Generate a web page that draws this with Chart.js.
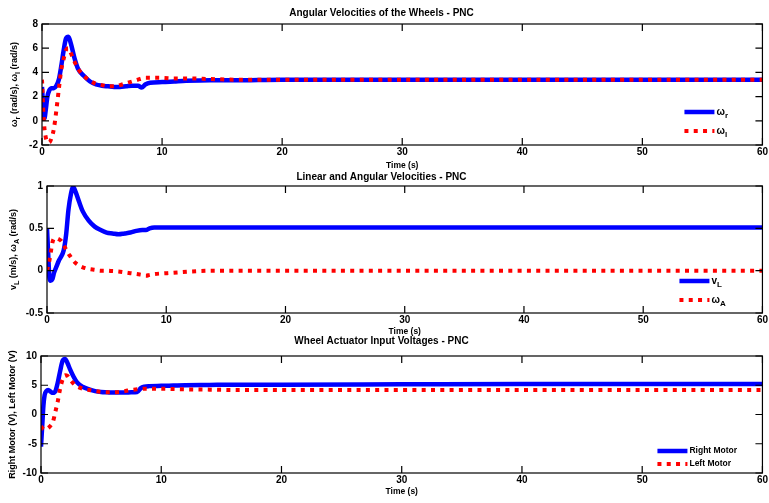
<!DOCTYPE html>
<html>
<head>
<meta charset="utf-8">
<script src="https://cdn.jsdelivr.net/npm/chart.js@4.4.0/dist/chart.umd.min.js"></script>
<style>
html, body { margin: 0; padding: 0; background: #fff; }
.pane { position: absolute; left: 0; width: 769px; }
</style>
</head>
<body>
<div class="pane" style="top:0;height:172px"><canvas id="c1"></canvas></div>
<div class="pane" style="top:170px;height:167px"><canvas id="c2"></canvas></div>
<div class="pane" style="top:333px;height:170px"><canvas id="c3"></canvas></div>
<script>
// time base shared by every series (s)
const time = [0, 0.1, 0.2, 0.3, 0.45, 0.6, 0.8, 1.0, 1.2, 1.4, 1.6, 1.8, 2.0, 2.2, 2.4, 2.7, 3.0, 3.5, 4, 4.5, 5, 5.5, 6, 6.5, 7, 7.5, 8, 8.3, 8.6, 9, 10, 11, 12, 14, 16, 20, 30, 40, 50, 60];

// plot 1 : wheel angular velocities (rad/s)
const omegaR = [2.8, 1.2, 0.2, 0.8, 2.0, 2.5, 2.7, 2.7, 2.9, 3.4, 4.5, 5.8, 6.8, 6.95, 6.4, 5.2, 4.3, 3.7, 3.25, 3.0, 2.9, 2.85, 2.8, 2.8, 2.85, 2.9, 2.9, 2.75, 3.0, 3.15, 3.2, 3.25, 3.3, 3.35, 3.35, 3.4, 3.4, 3.4, 3.4, 3.4];
const omegaL = [3.4, 1.0, -0.6, -1.3, -1.75, -1.8, -1.4, -0.6, 0.9, 2.6, 4.2, 5.1, 5.85, 6.0, 5.6, 4.9, 4.3, 3.7, 3.3, 3.05, 2.95, 2.85, 2.85, 2.95, 3.1, 3.25, 3.4, 3.5, 3.55, 3.55, 3.55, 3.5, 3.5, 3.45, 3.4, 3.4, 3.4, 3.4, 3.4, 3.4];

// plot 2 : linear (m/s) and angular (rad/s) velocities
const vL = [0.5, 0.2, -0.08, -0.12, -0.1, -0.02, 0.05, 0.12, 0.17, 0.24, 0.42, 0.72, 0.9, 0.99, 0.93, 0.81, 0.7, 0.59, 0.52, 0.48, 0.45, 0.44, 0.43, 0.44, 0.45, 0.47, 0.48, 0.48, 0.5, 0.51, 0.51, 0.51, 0.51, 0.51, 0.51, 0.51, 0.51, 0.51, 0.51, 0.51];
const omegaA = [0.0, 0.06, 0.12, 0.2, 0.33, 0.38, 0.38, 0.37, 0.35, 0.3, 0.25, 0.2, 0.16, 0.12, 0.09, 0.06, 0.04, 0.02, 0.01, 0.0, 0.0, -0.005, -0.01, -0.02, -0.03, -0.04, -0.05, -0.06, -0.05, -0.04, -0.03, -0.02, -0.01, 0.0, 0.0, 0.0, 0.0, 0.0, 0.0, 0.0];

// plot 3 : actuator voltages (V)
const rightMotor = [-5.5, -2.0, 1.5, 3.3, 4.0, 4.2, 3.9, 3.7, 4.0, 5.5, 7.5, 9.2, 9.5, 8.8, 7.8, 6.5, 5.5, 4.7, 4.3, 4.0, 3.85, 3.8, 3.75, 3.75, 3.75, 3.8, 3.85, 4.5, 4.75, 4.85, 4.9, 4.95, 5.0, 5.05, 5.1, 5.1, 5.15, 5.2, 5.2, 5.2];
const leftMotor = [-2.0, -2.3, -2.5, -2.6, -2.5, -2.3, -1.9, -1.2, 0.5, 2.3, 4.5, 6.0, 6.7, 6.6, 6.0, 5.3, 4.8, 4.4, 4.2, 4.0, 3.85, 3.8, 3.8, 3.85, 4.0, 4.2, 4.3, 4.35, 4.4, 4.4, 4.4, 4.35, 4.3, 4.25, 4.2, 4.2, 4.2, 4.2, 4.2, 4.2];

const FONT = "'Liberation Sans', Arial, Helvetica, sans-serif";
Chart.defaults.font.family = FONT;
Chart.defaults.color = '#000';

function pts(ys) {
    return time.map((t, i) => ({ x: t, y: ys[i] }));
}

// draws "a_b" with b as a subscript, along the current x direction
function drawSubText(ctx, str, size, x, y) {
    const parts = str.split(/_(.)/);
    let w = 0;
    parts.forEach((p, i) => {
        ctx.font = 'bold ' + (i % 2 ? size * 0.8 : size) + 'px ' + FONT;
        w += ctx.measureText(p).width;
    });
    return {
        width: w,
        draw(align) {
            let cx = align === 'center' ? x - w / 2 : x;
            parts.forEach((p, i) => {
                const sub = i % 2 === 1;
                ctx.font = 'bold ' + (sub ? size * 0.8 : size) + 'px ' + FONT;
                ctx.fillText(p, cx, y + (sub ? size * 0.35 : 0));
                cx += ctx.measureText(p).width;
            });
        }
    };
}

// matlab style box, inward ticks, y title with subscripts and an inside legend
const matlabAxes = {
    id: 'matlabAxes',
    afterDraw(chart, args, opts) {
        const { ctx, chartArea: a } = chart;
        const xs = chart.scales.x, ys = chart.scales.y;
        const tl = 7;
        ctx.save();
        ctx.strokeStyle = '#000';
        ctx.lineWidth = 1.2;
        ctx.strokeRect(a.left, a.top, a.right - a.left, a.bottom - a.top);
        ctx.beginPath();
        xs.ticks.forEach(t => {
            const px = xs.getPixelForValue(t.value);
            ctx.moveTo(px, a.bottom); ctx.lineTo(px, a.bottom - tl);
            ctx.moveTo(px, a.top); ctx.lineTo(px, a.top + tl);
        });
        ys.ticks.forEach(t => {
            const py = ys.getPixelForValue(t.value);
            ctx.moveTo(a.left, py); ctx.lineTo(a.left + tl, py);
            ctx.moveTo(a.right, py); ctx.lineTo(a.right - tl, py);
        });
        ctx.stroke();

        // y axis title
        ctx.fillStyle = '#000';
        ctx.textBaseline = 'middle';
        ctx.textAlign = 'left';
        ctx.save();
        ctx.translate(opts.titleX, (a.top + a.bottom) / 2);
        ctx.rotate(-Math.PI / 2);
        drawSubText(ctx, opts.yTitle, 9, 0, 0).draw('center');
        ctx.restore();

        // legend in the lower right corner
        const lx = a.right - opts.legendX;
        chart.data.datasets.forEach((ds, i) => {
            const ly = a.bottom - opts.legendY + i * opts.legendGap;
            ctx.save();
            ctx.strokeStyle = ds.borderColor;
            ctx.lineWidth = ds.borderWidth;
            ctx.setLineDash(ds.borderDash || []);
            ctx.beginPath();
            ctx.moveTo(lx, ly); ctx.lineTo(lx + 30, ly);
            ctx.stroke();
            ctx.restore();
            drawSubText(ctx, ds.label, opts.legendSize, lx + 32, ly).draw('left');
        });
        ctx.restore();
    }
};

function blueSet(label, ys) {
    return { label: label, data: pts(ys), borderColor: '#0000ff', borderWidth: 4.5, order: 1,
             pointRadius: 0, cubicInterpolationMode: 'monotone', borderCapStyle: 'butt' };
}
function redSet(label, ys) {
    return { label: label, data: pts(ys), borderColor: '#ff0000', borderWidth: 4, borderDash: [4, 5.3], order: 0,
             pointRadius: 0, cubicInterpolationMode: 'monotone', borderCapStyle: 'butt' };
}

function makeChart(id, cfg) {
    new Chart(document.getElementById(id), {
        type: 'line',
        data: { datasets: cfg.datasets },
        options: {
            responsive: true,
            maintainAspectRatio: false,
            animation: false,
            layout: { padding: { left: 0, right: 6, top: 0, bottom: 0 } },
            plugins: {
                legend: { display: false },
                tooltip: { enabled: false },
                title: {
                    display: true,
                    text: cfg.title,
                    font: { size: 10, weight: 'bold' },
                    color: '#000',
                    padding: { top: cfg.titleTop, bottom: cfg.titleBottom }
                },
                matlabAxes: cfg.axes
            },
            scales: {
                x: {
                    type: 'linear', min: 0, max: 60,
                    grid: { display: false, drawTicks: false },
                    border: { display: false },
                    ticks: { stepSize: 10, padding: 1, font: { size: 10, weight: 'bold' }, color: '#000', maxRotation: 0 },
                    title: { display: true, text: 'Time (s)', font: { size: 8.5, weight: 'bold' }, color: '#000',
                             padding: { top: 0, bottom: cfg.timeBottom } },
                    afterFit: s => { s.height = cfg.xHeight; }
                },
                y: {
                    min: cfg.yMin, max: cfg.yMax,
                    grid: { display: false, drawTicks: false },
                    border: { display: false },
                    ticks: { stepSize: cfg.yStep, padding: 4, font: { size: 10, weight: 'bold' }, color: '#000',
                             callback: v => String(v) },
                    afterFit: s => { s.width = cfg.yWidth; }
                }
            }
        },
        plugins: [matlabAxes]
    });
}

makeChart('c1', {
    title: 'Angular Velocities of the Wheels - PNC', titleTop: 7.5, titleBottom: 4.5,
    datasets: [blueSet('ω_r', omegaR), redSet('ω_l', omegaL)],
    yMin: -2, yMax: 8, yStep: 2, yWidth: 42, xHeight: 27, timeBottom: 1.2,
    axes: { yTitle: 'ω_r (rad/s), ω_l (rad/s)', titleX: 15, legendX: 78, legendY: 33, legendGap: 19, legendSize: 10 }
});

makeChart('c2', {
    title: 'Linear and Angular Velocities - PNC', titleTop: 1, titleBottom: 3,
    datasets: [blueSet('v_L', vL), redSet('ω_A', omegaA)],
    yMin: -0.5, yMax: 1, yStep: 0.5, yWidth: 47, xHeight: 24, timeBottom: 0.2,
    axes: { yTitle: 'v_L (m/s), ω_A (rad/s)', titleX: 14, legendX: 83, legendY: 32, legendGap: 19, legendSize: 10 }
});

makeChart('c3', {
    title: 'Wheel Actuator Input Voltages - PNC', titleTop: 2, titleBottom: 9,
    datasets: [blueSet('Right Motor', rightMotor), redSet('Left Motor', leftMotor)],
    yMin: -10, yMax: 10, yStep: 5, yWidth: 41, xHeight: 30, timeBottom: 6.2,
    axes: { yTitle: 'Right Motor (V), Left Motor (V)', titleX: 12.5, legendX: 105, legendY: 22, legendGap: 13, legendSize: 8.5 }
});
</script>
</body>
</html>
